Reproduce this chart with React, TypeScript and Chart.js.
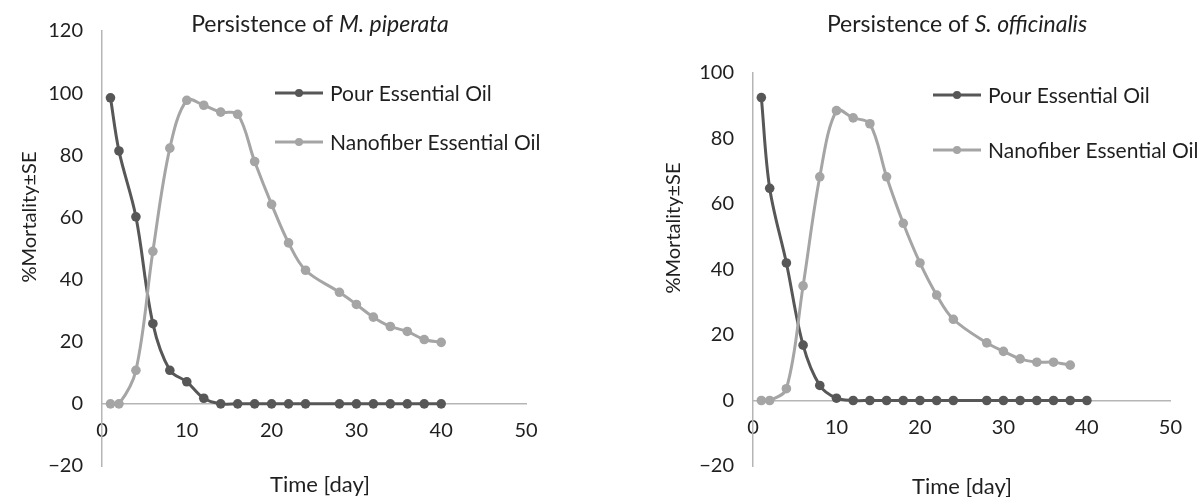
import React, { useEffect, useRef } from "react";
import { Chart, registerables } from "chart.js";

Chart.register(...registerables);

// ---------- data ----------
const days = [1, 2, 4, 6, 8, 10, 12, 14, 16, 18, 20, 22, 24, 28, 30, 32, 34, 36, 38, 40];
const mpPour = [98.5, 81.4, 60.2, 25.8, 10.8, 7.1, 1.8, 0, 0, 0, 0, 0, 0, 0, 0, 0, 0, 0, 0, 0];
const mpNano = [0, 0, 10.8, 49.1, 82.3, 97.7, 96.1, 93.9, 93.2, 78, 64.2, 51.8, 43, 35.9, 32, 27.9, 24.9, 23.3, 20.7, 19.8];

const soDaysNano = [1, 2, 4, 6, 8, 10, 12, 14, 16, 18, 20, 22, 24, 28, 30, 32, 34, 36, 38];
const soPour = [92.5, 64.8, 42, 16.9, 4.6, 0.7, 0, 0, 0, 0, 0, 0, 0, 0, 0, 0, 0, 0, 0, 0];
const soNano = [0, 0, 3.6, 35, 68.3, 88.5, 86.3, 84.5, 68.3, 54.1, 42, 32.2, 24.8, 17.6, 15, 12.7, 11.7, 11.7, 10.8];

const seriesNames = ["Pour Essential Oil", "Nanofiber Essential Oil"];
const titlePlain = "Persistence of ";
const titlesItalic = ["M. piperata", "S. officinalis"];
const yTitle = "%Mortality\u00B1SE";
const xTitle = "Time [day]";

// ---------- styles ----------
const FONT = "Lato";
const TEXT = "#1f1f1f";
const AXIS = "#b5b5b5";
const DARK = "#575757";
const LIGHT = "#a5a5a5";

type Layout = {
  w: number;
  h: number;
  left: number;
  plotLeft: number;
  top: number;
  right: number;
  bottom: number;
  yMax: number;
  titleX: number;
  titleY: number;
  yTitleX: number;
  yTitleY: number;
  xTitleX: number;
  xTitleY: number;
  legX: number;
  legY: number[];
};

function textPlugin(L: Layout, italic: string) {
  return {
    id: "texts",
    afterDraw(chart: any) {
      const ctx: CanvasRenderingContext2D = chart.ctx;
      ctx.save();
      ctx.fillStyle = TEXT;
      ctx.textBaseline = "middle";
      // title
      const nf = `23px ${FONT}`;
      const itf = `italic 23px ${FONT}`;
      ctx.font = nf;
      const w1 = ctx.measureText(titlePlain).width;
      ctx.font = itf;
      const w2 = ctx.measureText(italic).width;
      const x0 = L.titleX - (w1 + w2) / 2;
      ctx.textAlign = "left";
      ctx.font = nf;
      ctx.fillText(titlePlain, x0, L.titleY);
      ctx.font = itf;
      ctx.fillText(italic, x0 + w1, L.titleY);
      // x title
      ctx.font = `22px ${FONT}`;
      ctx.textAlign = "center";
      ctx.fillText(xTitle, L.xTitleX, L.xTitleY);
      // y title
      ctx.font = `20px ${FONT}`;
      ctx.save();
      ctx.translate(L.yTitleX, L.yTitleY);
      ctx.rotate(-Math.PI / 2);
      ctx.fillText(yTitle, 0, 0);
      ctx.restore();
      // legend
      const cols = [DARK, LIGHT];
      seriesNames.forEach((name, i) => {
        const y = L.legY[i];
        ctx.strokeStyle = cols[i];
        ctx.lineWidth = 3;
        ctx.beginPath();
        ctx.moveTo(L.legX, y);
        ctx.lineTo(L.legX + 48, y);
        ctx.stroke();
        ctx.fillStyle = cols[i];
        ctx.beginPath();
        ctx.arc(L.legX + 24, y, 4, 0, Math.PI * 2);
        ctx.fill();
        ctx.fillStyle = TEXT;
        ctx.textAlign = "left";
        ctx.font = `21px ${FONT}`;
        ctx.fillText(name, L.legX + 55, y + 1);
      });
      ctx.restore();
    },
  };
}

function makeConfig(L: Layout, italic: string, pourX: number[], pourY: number[], nanoX: number[], nanoY: number[]) {
  const ds = (xs: number[], ys: number[], color: string, label: string) => ({
    label,
    data: xs.map((x, i) => ({ x, y: ys[i] })),
    borderColor: color,
    backgroundColor: color,
    pointBackgroundColor: color,
    pointBorderWidth: 0,
    pointRadius: 4.8,
    borderWidth: 3,
    tension: 0.35,
    fill: false,
  });
  const tickFont = { family: FONT, size: 20 };
  return {
    type: "line" as const,
    data: {
      datasets: [ds(nanoX, nanoY, LIGHT, seriesNames[1]), ds(pourX, pourY, DARK, seriesNames[0])],
    },
    options: {
      animation: false as const,
      responsive: false,
      layout: { padding: { top: L.top, right: L.w - L.right, bottom: L.h - L.bottom, left: L.left } },
      plugins: { legend: { display: false }, title: { display: false }, tooltip: { enabled: false } },
      scales: {
        x: {
          type: "linear" as const,
          position: { y: 0 },
          min: 0,
          max: 50,
          ticks: { stepSize: 10, padding: 15, font: tickFont, color: TEXT, maxRotation: 0 },
          grid: { drawOnChartArea: false, drawTicks: false },
          border: { color: AXIS, width: 1.5 },
        },
        y: {
          type: "linear" as const,
          position: "left" as const,
          min: -20,
          max: L.yMax,
          ticks: {
            stepSize: 20,
            padding: 19,
            font: tickFont,
            color: TEXT,
            callback: (v: any) => String(v).replace("-", "\u2212"),
          },
          grid: { drawOnChartArea: false, drawTicks: false },
          border: { color: AXIS, width: 1.5 },
          afterFit: (s: any) => {
            s.width = L.plotLeft - L.left;
          },
        },
      },
    },
    plugins: [textPlugin(L, italic)],
  };
}

const leftLayout: Layout = {
  w: 600, h: 497, left: 0, plotLeft: 102, top: 28, right: 526, bottom: 468, yMax: 120,
  titleX: 320, titleY: 25, yTitleX: 30, yTitleY: 217, xTitleX: 320, xTitleY: 485,
  legX: 275, legY: [93, 142],
};
const rightLayout: Layout = {
  w: 597, h: 497, left: 0, plotLeft: 153, top: 73, right: 577, bottom: 469, yMax: 100,
  titleX: 357, titleY: 25, yTitleX: 74, yTitleY: 228, xTitleX: 362, xTitleY: 487,
  legX: 333, legY: [95, 150],
};

export default function App() {
  const leftRef = useRef<HTMLCanvasElement>(null);
  const rightRef = useRef<HTMLCanvasElement>(null);
  useEffect(() => {
    const c1 = new Chart(leftRef.current as HTMLCanvasElement, makeConfig(leftLayout, titlesItalic[0], days, mpPour, days, mpNano) as any);
    const c2 = new Chart(rightRef.current as HTMLCanvasElement, makeConfig(rightLayout, titlesItalic[1], days, soPour, soDaysNano, soNano) as any);
    return () => {
      c1.destroy();
      c2.destroy();
    };
  }, []);
  return (
    <div style={{ position: "absolute", left: 0, top: 0, width: 1197, height: 497, background: "#fff" }}>
      <canvas ref={leftRef} width={600} height={497} style={{ position: "absolute", left: 0, top: 0 }} />
      <canvas ref={rightRef} width={597} height={497} style={{ position: "absolute", left: 600, top: 0 }} />
    </div>
  );
}
